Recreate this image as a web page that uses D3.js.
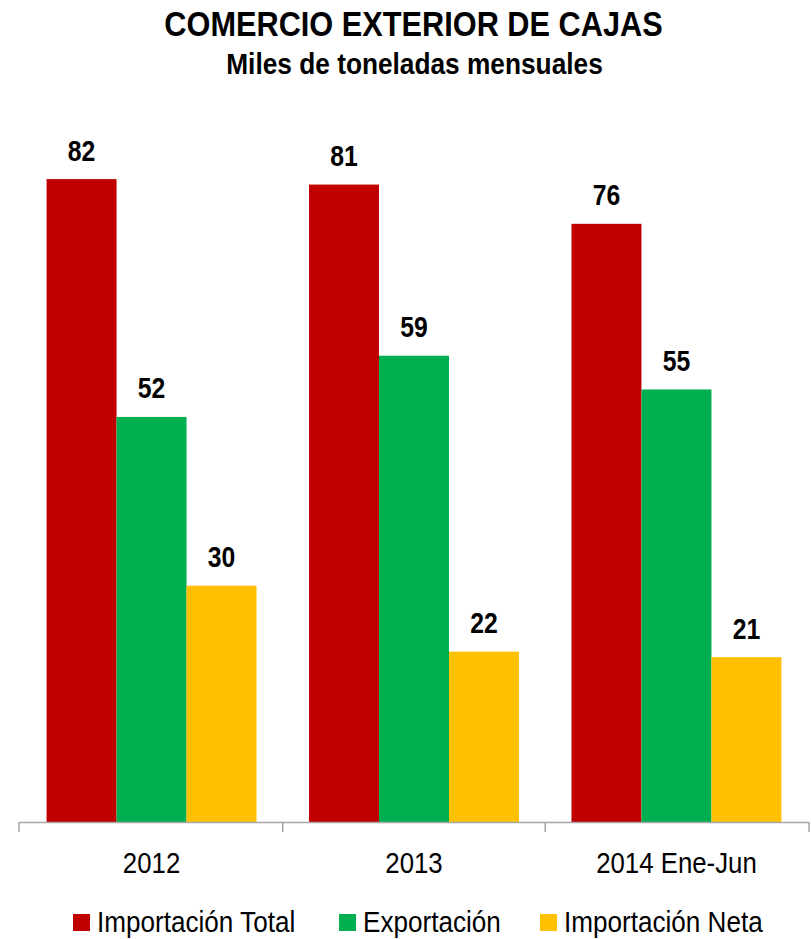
<!DOCTYPE html>
<html lang="es">
<head>
  <meta charset="UTF-8">
  <title>Comercio exterior de cajas</title>
  <script src="https://cdnjs.cloudflare.com/ajax/libs/d3/7.8.5/d3.min.js"></script>
  <style>
    body { margin: 0; background: #fff; }
    text { font-family: "Liberation Sans Narrow", "Arial Narrow", "Liberation Sans", Arial, sans-serif; fill: #000; }
    .title { font-size: 35px; font-weight: bold; }
    .subtitle { font-size: 29px; font-weight: bold; }
    .value { font-size: 29px; font-weight: bold; }
    .cat { font-size: 30px; }
    .legend text { font-size: 29px; }
  </style>
</head>
<body>
  <div id="chart"></div>
  <script>
    // data (labels show rounded values)
    var categories = ["2012", "2013", "2014 Ene-Jun"];
    var series = ["Importación Total", "Exportación", "Importación Neta"];
    var importTotal = [81.9, 81.2, 76.2];
    var exportacion = [51.6, 59.4, 55.1];
    var importNeta = [30.1, 21.7, 21.0];
    var colors = ["#C00000", "#00B050", "#FFC000"];

    var values = [importTotal, exportacion, importNeta];

    var W = 811, H = 939;
    var svg = d3.select("#chart").append("svg")
        .attr("width", W)
        .attr("height", H);

    // no narrow font installed, so squeeze text horizontally
    function addText(parent, cls, x, y, sx, anchor, str) {
      return parent.append("text")
          .attr("class", cls)
          .attr("transform", "translate(" + x + "," + y + ") scale(" + sx + ",1)")
          .attr("text-anchor", anchor)
          .text(str);
    }

    // titles
    addText(svg, "title", 413.5, 36, 0.878, "middle", "COMERCIO EXTERIOR DE CAJAS");
    addText(svg, "subtitle", 414.5, 74, 0.906, "middle", "Miles de toneladas mensuales");

    // scales
    var x0 = d3.scaleBand().domain(categories).range([19, 809])
        .paddingInner(0.2).paddingOuter(0.105);
    var x1 = d3.scaleBand().domain(series).range([0, x0.bandwidth()]);
    var y = d3.scaleLinear().domain([0, 90]).range([822, 115.5]);

    // bars + value labels
    var groups = svg.selectAll("g.grp").data(categories).enter()
      .append("g").attr("class", "grp")
        .attr("transform", function(d) { return "translate(" + x0(d) + ",0)"; });

    series.forEach(function(s, si) {
      groups.append("rect")
          .attr("x", x1(s))
          .attr("width", x1.bandwidth())
          .attr("y", function(d, i) { return y(values[si][i]); })
          .attr("height", function(d, i) { return y(0) - y(values[si][i]); })
          .attr("fill", colors[si]);
      groups.each(function(d, i) {
        addText(d3.select(this), "value", x1(s) + x1.bandwidth() / 2,
                y(values[si][i]) - 18.5, 0.854, "middle", Math.round(values[si][i]));
      });
    });

    // x axis: baseline with ticks at category boundaries
    var axis = svg.append("g");
    axis.append("line")
        .attr("x1", 19).attr("x2", 809).attr("y1", 822.5).attr("y2", 822.5)
        .attr("stroke", "#A6A6A6").attr("stroke-width", 1.5);
    var bounds = categories.map(function(d) { return x0(d) - x0.step() * x0.paddingInner() / 2; });
    bounds[0] = 19;
    bounds.push(809);
    axis.selectAll("line.tick").data(bounds).enter().append("line")
        .attr("class", "tick")
        .attr("x1", function(d) { return d; }).attr("x2", function(d) { return d; })
        .attr("y1", 822).attr("y2", 832)
        .attr("stroke", "#A6A6A6").attr("stroke-width", 1.5);
    categories.forEach(function(c) {
      addText(axis, "cat", x0(c) + x0.bandwidth() / 2, 873, 0.86, "middle", c);
    });

    // legend
    var legX = [73, 339, 540];
    var legend = svg.append("g").attr("class", "legend");
    series.forEach(function(s, i) {
      legend.append("rect")
          .attr("x", legX[i]).attr("y", 914)
          .attr("width", 17).attr("height", 17)
          .attr("fill", colors[i]);
      addText(legend, "", legX[i] + 24, 932, 0.9, "start", s);
    });
  </script>
</body>
</html>
